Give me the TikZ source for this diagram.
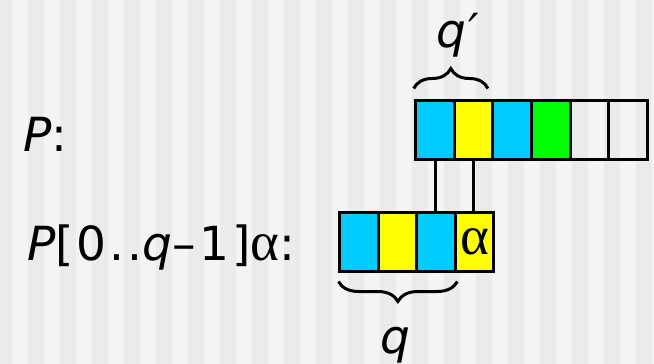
\documentclass[tikz,border=0pt]{standalone}
\usepackage{fontspec}
\setmainfont{DejaVu Sans}[LetterSpace=6.5]
\newfontfamily\greekfont{Liberation Serif}
\newcommand{\alphachar}{{\greekfont\fontsize{55}{60}\selectfont α}}
\usetikzlibrary{positioning, decorations.pathreplacing}
\definecolor{cellA}{RGB}{0, 204, 255}
\definecolor{cellB}{RGB}{255, 255, 0}
\definecolor{cellC}{RGB}{0, 255, 0}
\definecolor{stripeA}{RGB}{235, 235, 235}
\definecolor{stripeB}{RGB}{244, 244, 244}

\begin{document}
\begin{tikzpicture}[x=1pt, y=-1pt, font=\fontsize{47}{52}\selectfont,
    cell/.style={draw, line width=3pt, minimum width=38.6pt, minimum height=59pt,
                 inner sep=0pt, outer sep=0pt},
    link/.style={line width=3pt},
    curly/.style={decorate, decoration={brace, amplitude=20pt}, line width=3pt}]
  \useasboundingbox (0,0) rectangle (654,364);
  \fill[stripeB] (0,0) rectangle (654,364);
  \foreach \k in {0,...,20}
    \fill[stripeA] (-4+32*\k,0) rectangle (12+32*\k,364);
  % P[0..q-1] alpha
  \node[cell, fill=cellA] (b1) at (358.8,242) {};
  \node[cell, fill=cellB, right=0pt of b1] (b2) {};
  \node[cell, fill=cellA, right=0pt of b2] (b3) {};
  \node[cell, fill=cellB, right=0pt of b3] (b4) {\alphachar};
  % P
  \node[cell, fill=cellA, above=53pt of b3, xshift=-1pt] (a1) {};
  \node[cell, fill=cellB, right=0pt of a1] (a2) {};
  \node[cell, fill=cellA, right=0pt of a2] (a3) {};
  \node[cell, fill=cellC, right=0pt of a3] (a4) {};
  \node[cell, right=0pt of a4] (a5) {};
  \node[cell, right=0pt of a5] (a6) {};
  \draw[link] (a1.south) -- (a1.south |- b3.north);
  \draw[link] (a2.south) -- (a2.south |- b4.north);
  % labels
  \node[anchor=base west, inner sep=0pt] (lblP) at (23,151) {\itshape P\upshape:};
  \node[anchor=base west, inner sep=0pt] (lblPq) at (27,260)
       {\itshape P\upshape[0..\itshape q\upshape–1]\alphachar:};
  \draw[curly] ([xshift=-2pt, yshift=12pt]a1.north west) -- ([xshift=-5pt, yshift=12pt]a2.north east)
       node[midway, anchor=base, xshift=7pt, yshift=41pt] (lblq2) {\itshape q′};
  \draw[curly] ([xshift=2pt, yshift=-10pt]b3.south east) -- ([xshift=-1pt, yshift=-10pt]b1.south west)
       node[midway, anchor=base, xshift=-2pt, yshift=-71.5pt] (lblq) {\itshape q};
\end{tikzpicture}
\end{document}
